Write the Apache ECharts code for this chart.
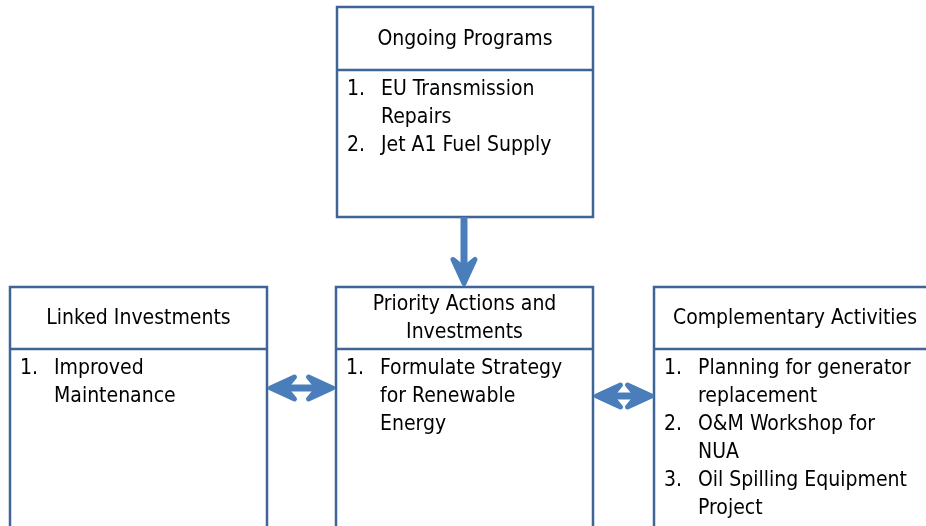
<!DOCTYPE html>
<html>
<head>
<meta charset="utf-8">
<script src="https://cdn.jsdelivr.net/npm/echarts@6/dist/echarts.min.js"></script>
<style>
  html, body { margin: 0; padding: 0; background: #fff; }
  #main { width: 926px; height: 526px; }
</style>
</head>
<body>
<div id="main"></div>
<script>
// box texts
const headers = [
    ['Ongoing Programs'],
    ['Linked Investments'],
    ['Priority Actions and', 'Investments'],
    ['Complementary Activities'],
];
const items = [
    [['EU Transmission', 'Repairs'], ['Jet A1 Fuel Supply']],
    [['Improved', 'Maintenance']],
    [['Formulate Strategy', 'for Renewable', 'Energy']],
    [['Planning for generator', 'replacement'], ['O&M Workshop for', 'NUA'], ['Oil Spilling Equipment', 'Project']],
];

// layout in page units: x0, y0, x1, y1, divider y
const boxLayout = [
    [337, 7, 593, 217, 70],
    [10, 287, 267, 545, 349],
    [336, 287, 593, 545, 349],
    [654, 287, 945, 545, 349],
];
// arrows: x1, y1, x2, y2, double headed
const arrowLayout = [
    [464, 217, 464, 286, 0],
    [268, 388, 335, 388, 1],
    [594, 396, 654, 396, 1],
];

const BORDER = '#3f6596';
const ARROW = '#4a7ebb';
const FONT = '21px "Liberation Sans Narrow", "DejaVu Sans Condensed", sans-serif';
const LINE_H = 28;

const chart = echarts.init(document.getElementById('main'));

function renderBox(params, api) {
    const i = params.dataIndex;
    const p0 = api.coord([api.value(0), api.value(1)]);
    const p1 = api.coord([api.value(2), api.value(3)]);
    const dv = api.coord([0, api.value(4)])[1];
    const children = [
        {
            type: 'rect',
            shape: { x: p0[0], y: p0[1], width: p1[0] - p0[0], height: p1[1] - p0[1] },
            style: { fill: '#fff', stroke: BORDER, lineWidth: 2.5 },
        },
        {
            type: 'line',
            shape: { x1: p0[0], y1: dv, x2: p1[0], y2: dv },
            style: { stroke: BORDER, lineWidth: 2.5 },
        },
    ];
    // header, centered in the top cell (right box is cut by the page edge)
    const hd = headers[i];
    const cx = i === 3 ? 795 : (p0[0] + p1[0]) / 2;
    const cy = (p0[1] + dv) / 2;
    hd.forEach((t, k) => {
        children.push({
            type: 'text',
            style: {
                text: t, x: cx, y: cy + 1 + (k - (hd.length - 1) / 2) * LINE_H,
                font: FONT, fill: '#000', textAlign: 'center', textVerticalAlign: 'middle',
            },
        });
    });
    // numbered items
    let line = 0;
    items[i].forEach((it, n) => {
        const y0 = dv + 20 + line * LINE_H;
        children.push({
            type: 'text',
            style: {
                text: (n + 1) + '.', x: p0[0] + 10, y: y0,
                font: FONT, fill: '#000', textVerticalAlign: 'middle',
            },
        });
        it.forEach((t, k) => {
            children.push({
                type: 'text',
                style: {
                    text: t, x: p0[0] + 44, y: y0 + k * LINE_H,
                    font: FONT, fill: '#000', textVerticalAlign: 'middle',
                },
            });
        });
        line += it.length;
    });
    return { type: 'group', children: children };
}

function head(tip, dir) {
    // dir: unit vector pointing toward the tip
    const L = 24, W = 11, N = 15;
    const px = -dir[1], py = dir[0];
    const bx = tip[0] - dir[0] * L, by = tip[1] - dir[1] * L;
    return {
        type: 'polygon',
        shape: {
            points: [
                tip,
                [bx + px * W, by + py * W],
                [tip[0] - dir[0] * N, tip[1] - dir[1] * N],
                [bx - px * W, by - py * W],
            ],
        },
        style: { fill: ARROW, stroke: ARROW, lineWidth: 5, lineJoin: 'round' },
    };
}

function renderArrow(params, api) {
    const a = api.coord([api.value(0), api.value(1)]);
    const b = api.coord([api.value(2), api.value(3)]);
    const dbl = api.value(4);
    const len = Math.hypot(b[0] - a[0], b[1] - a[1]);
    const d = [(b[0] - a[0]) / len, (b[1] - a[1]) / len];
    const inset = 2.5;
    const tipB = [b[0] - d[0] * inset, b[1] - d[1] * inset];
    const tipA = dbl ? [a[0] + d[0] * inset, a[1] + d[1] * inset] : a;
    const children = [
        {
            type: 'line',
            shape: {
                x1: tipA[0] + (dbl ? d[0] * 12 : 0), y1: tipA[1] + (dbl ? d[1] * 12 : 0),
                x2: tipB[0] - d[0] * 12, y2: tipB[1] - d[1] * 12,
            },
            style: { stroke: ARROW, lineWidth: 7 },
        },
        head(tipB, d),
    ];
    if (dbl) children.push(head(tipA, [-d[0], -d[1]]));
    return { type: 'group', children: children };
}

chart.setOption({
    animation: false,
    grid: { left: 0, right: 0, top: 0, bottom: 0 },
    xAxis: { type: 'value', min: 0, max: 926, show: false },
    yAxis: { type: 'value', min: 0, max: 526, inverse: true, show: false },
    series: [
        {
            type: 'custom',
            renderItem: renderBox,
            data: boxLayout,
            silent: true,
        },
        {
            type: 'custom',
            renderItem: renderArrow,
            data: arrowLayout,
            silent: true,
            z: 3,
        },
    ],
});
</script>
</body>
</html>
